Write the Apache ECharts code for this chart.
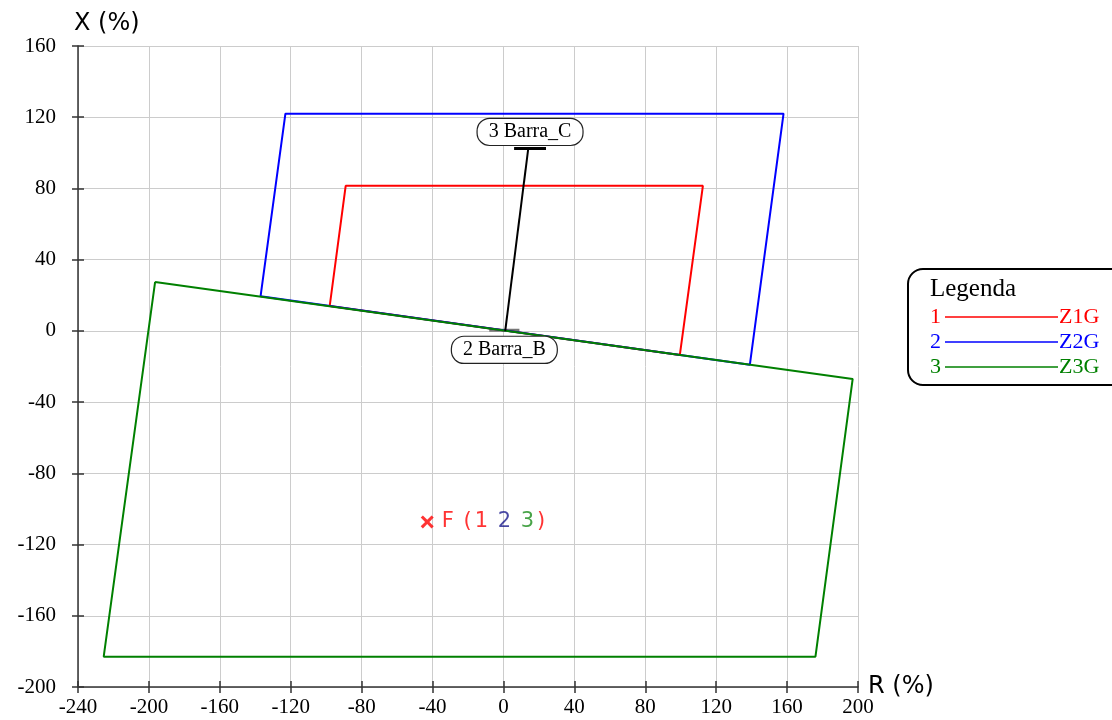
<!DOCTYPE html>
<html>
<head>
<meta charset="utf-8">
<title>R-X</title>
<script src="https://cdn.jsdelivr.net/npm/echarts@6/dist/echarts.min.js"></script>
<style>html,body{margin:0;padding:0;background:#fff}</style>
</head>
<body>
<div id="main" style="width:1112px;height:720px;"></div>
<script>
// zone polygons (R %, X %), closed
var z1g = [[-98, 14], [-89, 81.5], [112.5, 81.5], [99.5, -13.5], [-98, 14]];
var z2g = [[-137, 19.5], [-123, 122], [158, 122], [139, -19], [-137, 19.5]];
var z3g = [[-196.5, 27.5], [197, -27], [176, -183], [-225.5, -183], [-196.5, 27.5]];
// line between busbars
var lineBC = [[1, 0], [14, 102.5]];
var barC = [[6, 102.5], [24, 102.5]];
var barB = [[-8, 0.3], [9, 0.3]];
var barLabels = [['3 Barra_C', 15, 102.5], ['2 Barra_B', 0.5, 0.3]];
var faultPoint = [-43, -107.3];

var legendNums = ['1', '2', '3'];
var legendNames = ['Z1G', 'Z2G', 'Z3G'];
var zoneColors = ['#ff0000', '#0000ff', '#008000'];

var xTicks = { min: -240, max: 200, interval: 40 };
var yTicks = { min: -200, max: 160, interval: 40 };

var myChart = echarts.init(document.getElementById('main'));

var serif = 'Liberation Serif';
var sans = 'DejaVu Sans';

function axisBase(t) {
    return {
        type: 'value', min: t.min, max: t.max, interval: t.interval
    };
}

var xMain = Object.assign(axisBase(xTicks), {
    position: 'bottom',
    name: 'R (%)', nameLocation: 'end', nameGap: 10, nameMoveOverlap: false,
    nameTextStyle: { fontFamily: sans, fontSize: 24, color: '#000', verticalAlign: 'middle' },
    axisLine: { onZero: false, lineStyle: { color: '#333', width: 1.5 } },
    axisTick: { length: 6, lineStyle: { color: '#333', width: 1.5 } },
    axisLabel: { fontFamily: serif, fontSize: 21, color: '#000', margin: 10 },
    splitLine: { lineStyle: { color: '#ccc', width: 1 } }
});
var xTick2 = Object.assign(axisBase(xTicks), {
    position: 'bottom', offset: 0,
    axisLine: { show: false, onZero: false },
    axisTick: { inside: true, length: 6, lineStyle: { color: '#333', width: 1.5 } },
    axisLabel: { show: false },
    splitLine: { show: false }
});
var yMain = Object.assign(axisBase(yTicks), {
    position: 'left',
    name: 'X (%)', nameLocation: 'end', nameGap: 22, nameMoveOverlap: false,
    nameTextStyle: { fontFamily: sans, fontSize: 24, color: '#000', align: 'left', verticalAlign: 'middle', padding: [0, 0, 0, -4] },
    axisLine: { show: true, onZero: false, lineStyle: { color: '#333', width: 1.5 } },
    axisTick: { show: true, length: 6, lineStyle: { color: '#333', width: 1.5 } },
    axisLabel: { fontFamily: serif, fontSize: 21, color: '#000', margin: 22 },
    splitLine: { lineStyle: { color: '#ccc', width: 1 } }
});
var yTick2 = Object.assign(axisBase(yTicks), {
    position: 'left', offset: 0,
    axisLine: { show: false, onZero: false },
    axisTick: { show: true, inside: true, length: 6, lineStyle: { color: '#333', width: 1.5 } },
    axisLabel: { show: false },
    splitLine: { show: false }
});

function poly(name, data, color, width, z) {
    return {
        name: name, type: 'line', data: data, showSymbol: false, symbol: 'none',
        lineStyle: { color: color, width: width }, z: z, animation: false, silent: true
    };
}

var boxRich = {
    box: {
        fontFamily: serif, fontSize: 20, color: '#000', lineHeight: 22,
        backgroundColor: '#fff', borderColor: '#222', borderWidth: 1.2,
        borderRadius: 12, padding: [3, 11]
    }
};

// legend drawn as graphic
var legendGraphic = [{
    type: 'rect', left: 907, top: 268,
    shape: { width: 230, height: 116, r: 15 },
    style: { fill: '#fff', stroke: '#000', lineWidth: 2 }
}, {
    type: 'text', x: 930, y: 289,
    style: { text: 'Legenda', font: '25px "Liberation Serif"', fill: '#000', verticalAlign: 'middle' }
}];
legendNums.forEach(function (n, i) {
    var y = 317 + i * 25;
    legendGraphic.push({
        type: 'text', x: 930, y: y,
        style: { text: n, font: '22px "Liberation Serif"', fill: zoneColors[i], verticalAlign: 'middle' }
    });
    legendGraphic.push({
        type: 'line', shape: { x1: 945, y1: y, x2: 1058, y2: y },
        style: { stroke: zoneColors[i], lineWidth: 1.5 }
    });
    legendGraphic.push({
        type: 'text', x: 1059, y: y,
        style: { text: legendNames[i], font: '22px "Liberation Serif"', fill: zoneColors[i], verticalAlign: 'middle' }
    });
});

var fSpan = { fontFamily: sans, fontSize: 21, padding: [0, 3, 0, 0] };
function span(color) { return Object.assign({ color: color }, fSpan); }

var option = {
    animation: false,
    grid: { left: 78, right: 254, top: 46, bottom: 33, containLabel: false },
    xAxis: [xMain, xTick2],
    yAxis: [yMain, yTick2],
    graphic: legendGraphic,
    series: [
        poly('Z1G', z1g, zoneColors[0], 2, 2),
        poly('Z2G', z2g, zoneColors[1], 2, 2),
        poly('Z3G', z3g, zoneColors[2], 2, 3),
        poly('linha', lineBC, '#000', 2, 4),
        poly('Barra_C', barC, '#000', 3, 4),
        poly('Barra_B', barB, '#777', 3, 1),
        {
            type: 'scatter', symbol: 'circle', symbolSize: 1, z: 6, silent: true,
            itemStyle: { color: 'rgba(0,0,0,0)' },
            data: [
                { value: [barLabels[0][1], barLabels[0][2]], name: barLabels[0][0],
                  label: { position: 'top', distance: 5 } },
                { value: [barLabels[1][1], barLabels[1][2]], name: barLabels[1][0],
                  label: { position: 'bottom', distance: 8 } }
            ],
            label: {
                show: true, color: '#000', opacity: 1,
                formatter: function (p) { return '{box|' + p.name + '}'; },
                rich: boxRich
            }
        },
        {
            type: 'scatter', z: 6, silent: true,
            symbol: 'path://M2,0 L6,4 L10,0 L12,2 L8,6 L12,10 L10,12 L6,8 L2,12 L0,10 L4,6 L0,2 Z',
            symbolSize: 13,
            itemStyle: { color: '#ff0000' },
            data: [faultPoint],
            label: {
                show: true, position: 'right', distance: 8,
                formatter: '{r|F }{r|(}{r|1 }{b|2 }{g|3}{r|)}',
                rich: {
                    r: span('#ff0000'),
                    b: span('#1a1a8c'),
                    g: span('#1a8c1a')
                }
            }
        }
    ]
};

myChart.setOption(option);
</script>
</body>
</html>
